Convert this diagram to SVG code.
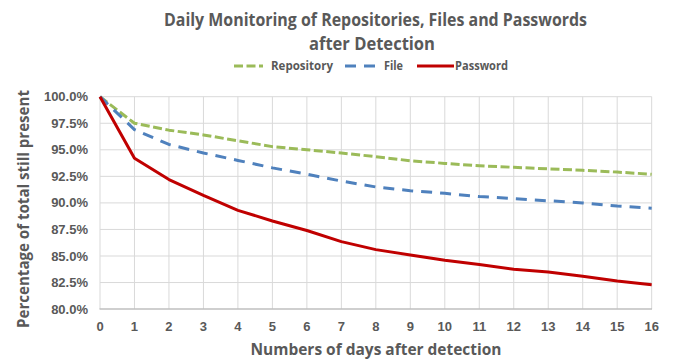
<svg xmlns="http://www.w3.org/2000/svg" width="673" height="360" viewBox="0 0 673 360">
<style>
.title{font-family:"Open Sans","Liberation Sans",sans-serif;font-weight:bold;font-size:18px;fill:#595959}
.leg{font-family:"Open Sans","Liberation Sans",sans-serif;font-weight:bold;font-size:11.5px;fill:#595959}
.tick{font-family:"Liberation Sans",Arial,sans-serif;font-weight:bold;font-size:13px;fill:#595959}
.axt{font-family:"Open Sans","Liberation Sans",sans-serif;font-weight:bold;font-size:16px;fill:#595959}
.grid line{stroke:#d9d9d9;stroke-width:1}
.s{fill:none;stroke-width:3;stroke-linejoin:round}
.repo{stroke:#9bbb59;stroke-dasharray:9 3.5}
.file{stroke:#4f81bd;stroke-dasharray:11 8}
.pass{stroke:#c00000}
</style>
<rect width="673" height="360" fill="#ffffff"/>
<g id="title">
<text class="title" x="375.5" y="25.5" text-anchor="middle" textLength="423" lengthAdjust="spacingAndGlyphs">Daily Monitoring of Repositories, Files and Passwords</text>
<text class="title" x="372" y="50" text-anchor="middle" textLength="126" lengthAdjust="spacingAndGlyphs">after Detection</text>
</g>
<g id="legend">
<line class="s repo" x1="234" y1="66" x2="263" y2="66" stroke-dasharray="8 3"/>
<text class="leg" x="271" y="70" textLength="62" lengthAdjust="spacingAndGlyphs">Repository</text>
<line class="s file" x1="345" y1="66" x2="378" y2="66" stroke-dasharray="11 11"/>
<text class="leg" x="384" y="70" textLength="19" lengthAdjust="spacingAndGlyphs">File</text>
<line class="s pass" x1="417" y1="66" x2="454" y2="66"/>
<text class="leg" x="455" y="70" textLength="53" lengthAdjust="spacingAndGlyphs">Password</text>
</g>
<g id="grid" class="grid">
<line x1="100" y1="96.7" x2="651.7" y2="96.7"/>
<line x1="100" y1="123.25" x2="651.7" y2="123.25"/>
<line x1="100" y1="149.8" x2="651.7" y2="149.8"/>
<line x1="100" y1="176.35" x2="651.7" y2="176.35"/>
<line x1="100" y1="202.9" x2="651.7" y2="202.9"/>
<line x1="100" y1="229.45" x2="651.7" y2="229.45"/>
<line x1="100" y1="256" x2="651.7" y2="256"/>
<line x1="100" y1="282.55" x2="651.7" y2="282.55"/>
<line x1="100" y1="96.7" x2="100" y2="309"/>
<line x1="134.48" y1="96.7" x2="134.48" y2="309"/>
<line x1="168.96" y1="96.7" x2="168.96" y2="309"/>
<line x1="203.44" y1="96.7" x2="203.44" y2="309"/>
<line x1="237.92" y1="96.7" x2="237.92" y2="309"/>
<line x1="272.4" y1="96.7" x2="272.4" y2="309"/>
<line x1="306.88" y1="96.7" x2="306.88" y2="309"/>
<line x1="341.36" y1="96.7" x2="341.36" y2="309"/>
<line x1="375.84" y1="96.7" x2="375.84" y2="309"/>
<line x1="410.32" y1="96.7" x2="410.32" y2="309"/>
<line x1="444.8" y1="96.7" x2="444.8" y2="309"/>
<line x1="479.28" y1="96.7" x2="479.28" y2="309"/>
<line x1="513.76" y1="96.7" x2="513.76" y2="309"/>
<line x1="548.24" y1="96.7" x2="548.24" y2="309"/>
<line x1="582.72" y1="96.7" x2="582.72" y2="309"/>
<line x1="617.2" y1="96.7" x2="617.2" y2="309"/>
<line x1="651.68" y1="96.7" x2="651.68" y2="309"/>
</g>
<line id="x-axis" x1="99.5" y1="309.1" x2="652" y2="309.1" stroke="#bfbfbf" stroke-width="1.5"/>
<g id="y-labels" class="tick" text-anchor="end">
<text x="88" y="101.2">100.0%</text>
<text x="88" y="127.75">97.5%</text>
<text x="88" y="154.3">95.0%</text>
<text x="88" y="180.85">92.5%</text>
<text x="88" y="207.4">90.0%</text>
<text x="88" y="233.95">87.5%</text>
<text x="88" y="260.5">85.0%</text>
<text x="88" y="287.05">82.5%</text>
<text x="88" y="313.6">80.0%</text>
</g>
<g id="x-labels" class="tick" text-anchor="middle">
<text x="100" y="330.5">0</text>
<text x="134.48" y="330.5">1</text>
<text x="168.96" y="330.5">2</text>
<text x="203.44" y="330.5">3</text>
<text x="237.92" y="330.5">4</text>
<text x="272.4" y="330.5">5</text>
<text x="306.88" y="330.5">6</text>
<text x="341.36" y="330.5">7</text>
<text x="375.84" y="330.5">8</text>
<text x="410.32" y="330.5">9</text>
<text x="444.8" y="330.5">10</text>
<text x="479.28" y="330.5">11</text>
<text x="513.76" y="330.5">12</text>
<text x="548.24" y="330.5">13</text>
<text x="582.72" y="330.5">14</text>
<text x="617.2" y="330.5">15</text>
<text x="651.68" y="330.5">16</text>
</g>
<text id="x-title" class="axt" x="376" y="355" text-anchor="middle" textLength="251" lengthAdjust="spacingAndGlyphs">Numbers of days after detection</text>
<text id="y-title" class="axt" transform="translate(28.5,209) rotate(-90)" text-anchor="middle" textLength="238" lengthAdjust="spacingAndGlyphs">Percentage of total still present</text>
<g id="connectors">
<polyline id="repository" class="s repo" points="100,96.7 134.48,123.25 168.96,130.15 203.44,134.93 237.92,140.77 272.4,146.61 306.88,149.8 341.36,152.99 375.84,156.7 410.32,160.74 444.8,163.39 479.28,165.73 513.76,167.32 548.24,168.92 582.72,170.3 617.2,172.1 651.68,174.23"/>
<polyline id="file" class="s file" points="100,96.7 134.48,129.62 168.96,144.49 203.44,152.99 237.92,160.42 272.4,167.85 306.88,174.23 341.36,181.02 375.84,186.97 410.32,190.69 444.8,193.34 479.28,196.53 513.76,198.65 548.24,200.78 582.72,202.9 617.2,206.09 651.68,208.21"/>
<polyline id="password" class="s pass" points="100,96.7 134.48,158.3 168.96,179.54 203.44,195.47 237.92,210.33 272.4,220.95 306.88,230.51 341.36,241.66 375.84,249.63 410.32,254.94 444.8,260.25 479.28,264.5 513.76,269.28 548.24,271.93 582.72,276.18 617.2,280.96 651.68,284.67"/>
</g>
</svg>
